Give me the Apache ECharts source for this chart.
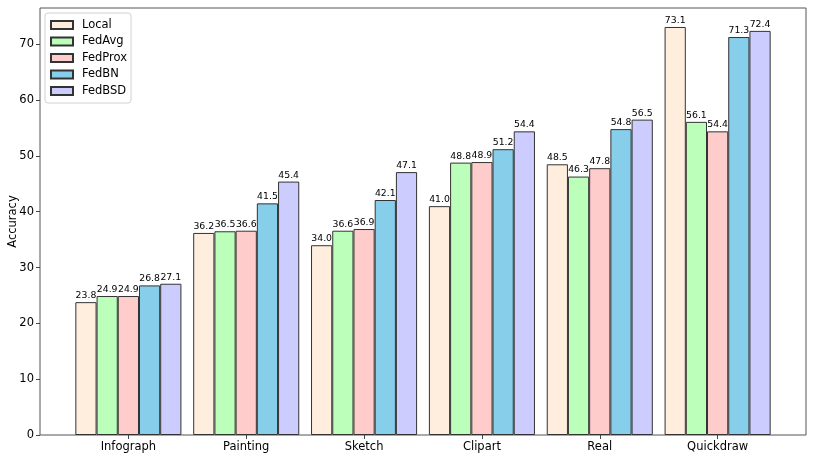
<!DOCTYPE html>
<html><head><meta charset="utf-8">
<script src="https://cdn.jsdelivr.net/npm/echarts@6/dist/echarts.min.js"></script>
<style>html,body{margin:0;padding:0;background:#fff}#c{width:814px;height:458px}</style>
</head><body><div id="c"></div>
<script>
const categories = ['Infograph','Painting','Sketch','Clipart','Real','Quickdraw'];
const seriesNames = ['Local','FedAvg','FedProx','FedBN','FedBSD'];
const local   = [23.8, 36.2, 34.0, 41.0, 48.5, 73.1];
const fedAvg  = [24.9, 36.5, 36.6, 48.8, 46.3, 56.1];
const fedProx = [24.9, 36.6, 36.9, 48.9, 47.8, 54.4];
const fedBN   = [26.8, 41.5, 42.1, 51.2, 54.8, 71.3];
const fedBSD  = [27.1, 45.4, 47.1, 54.4, 56.5, 72.4];
const yTicks = [0,10,20,30,40,50,60,70];
const colors = ['#FFEEDD','#BBFFBB','#FFCCCC','#87CEEB','#CCCCFF'];
const allData = [local, fedAvg, fedProx, fedBN, fedBSD];

const FONT = 'DejaVu Sans';
const YMAX = 76.5;
const unit = 766/6.5;
const inner = unit*0.25;

const chart = echarts.init(document.getElementById('c'), null, {renderer:'canvas'});
chart.setOption({
  animation:false,
  textStyle:{fontFamily:FONT},
  grid:[
    {left:40, right:8, top:8, bottom:23, show:true, borderColor:'#555', borderWidth:1, backgroundColor:'transparent', outerBoundsMode:'none'},
    {left:40+inner, right:8+inner, top:8, bottom:23, outerBoundsMode:'none'}
  ],
  legend:{
    orient:'vertical', left:45, top:13, padding:[6,4,6,5],
    itemWidth:22, itemHeight:8, itemGap:4.5,
    borderColor:'#d0d0d0', borderWidth:1, borderRadius:3, backgroundColor:'rgba(255,255,255,0.8)',
    icon:'rect',
    textStyle:{fontFamily:FONT, fontSize:11.5, color:'#000', padding:[0,0,0,4], lineHeight:11.5},
    data:seriesNames
  },
  xAxis:[
    {gridIndex:0, type:'value', min:0, max:1, show:false},
    {gridIndex:1, type:'category', data:categories,
     axisLine:{show:false},
     axisTick:{show:true, alignWithLabel:true, length:4, lineStyle:{color:'#444'}},
     axisLabel:{fontFamily:FONT, fontSize:11.5, color:'#000', margin:6}}
  ],
  yAxis:[
    {gridIndex:0, type:'value', min:0, max:YMAX,
     name:'Accuracy', nameLocation:'middle', nameGap:21, nameMoveOverlap:false,
     nameTextStyle:{fontFamily:FONT, fontSize:11.5, color:'#000'},
     axisLine:{show:false}, splitLine:{show:false},
     axisTick:{show:true, length:4, lineStyle:{color:'#444'}, customValues:yTicks},
     axisLabel:{fontFamily:FONT, fontSize:11.5, color:'#000', margin:6, customValues:yTicks}},
    {gridIndex:1, type:'value', min:0, max:YMAX, show:false}
  ],
  series: seriesNames.map((n,i)=>({
    name:n, type:'bar', xAxisIndex:1, yAxisIndex:1,
    data:allData[i],
    barWidth:'18%', barGap:'0%',
    itemStyle:{color:colors[i], borderColor:'#333', borderWidth:1},
    label:{show:true, position:'top', distance:2, fontFamily:FONT, fontSize:9.3, color:'#000',
      formatter:p=>p.value.toFixed(1)}
  }))
});
</script></body></html>
